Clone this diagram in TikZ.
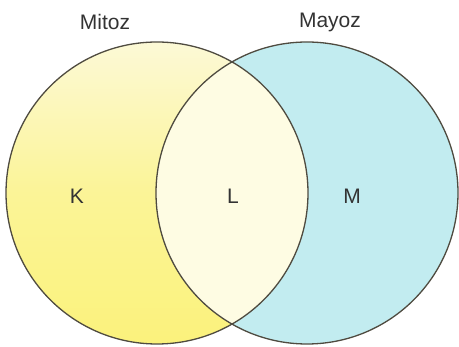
\documentclass[tikz,border=0pt]{standalone}
\usepackage{fontspec}
\setmainfont{Liberation Sans}
\usetikzlibrary{positioning}
\definecolor{VennLine}{HTML}{4F4B40}
\definecolor{VennText}{HTML}{333333}
\definecolor{MitozPale}{HTML}{FCF9D6}
\definecolor{MitozYellow}{HTML}{FBF27C}
\definecolor{OrtakCream}{HTML}{FEFCE3}
\definecolor{MayozCyan}{HTML}{C2ECF0}

\begin{document}
\begin{tikzpicture}[x=1pt,y=-1pt, every node/.style={font=\fontsize{21}{24}\selectfont,text=VennText}]
    \tikzset{set/.style={circle,minimum size=302pt,inner sep=0pt},
      outline/.style={set,draw=VennLine,line width=1.3pt}}
    \useasboundingbox (0,0) rectangle (459,347);
    % fills
    \node[set,top color=MitozPale,bottom color=MitozYellow,middle color=MitozYellow!70!MitozPale] (mitoz) at (157,193) {};
    \node[set,fill=MayozCyan] (mayoz) at (307,193) {};
    \begin{scope}
      \clip (157,193) circle (151pt);
      \fill[OrtakCream] (307,193) circle (151pt);
    \end{scope}
    % outlines
    \node[outline] at (mitoz) {};
    \node[outline] at (mayoz) {};
    % labels
    \node (mitozlbl) at (105,22) {Mitoz};
    \node (mayozlbl) at (330,22) {Mayoz};
    \node (k) at (77,196) {K};
    \node (l) at (233,196) {L};
    \node (m) at (352,196) {M};
\end{tikzpicture}
\end{document}
